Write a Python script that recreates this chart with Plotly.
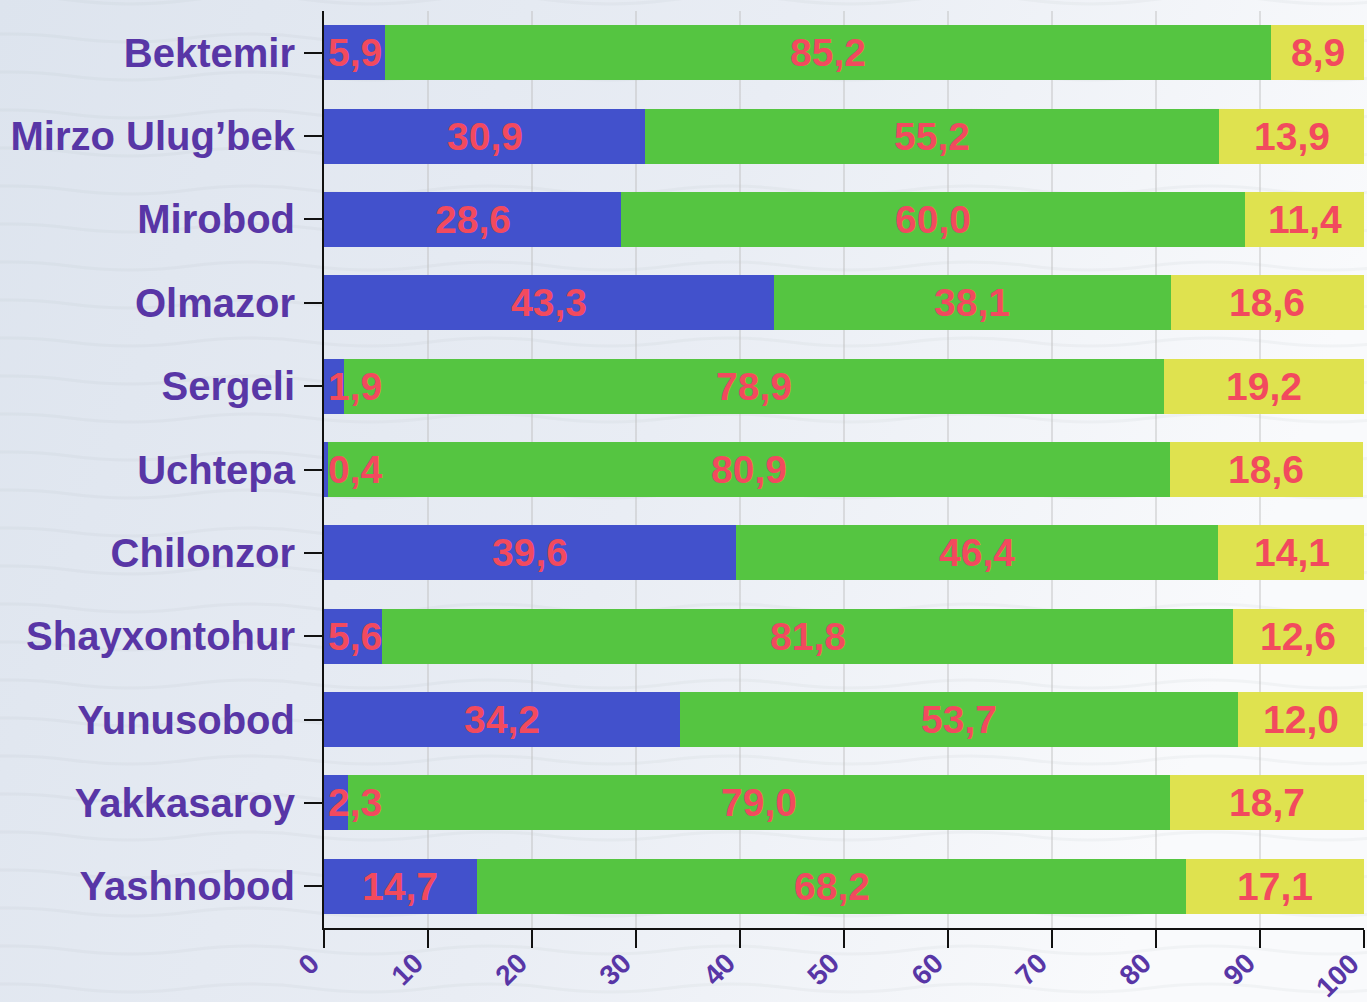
import base64
import plotly.graph_objects as go

districts = ["Bektemir", "Mirzo Ulug’bek", "Mirobod", "Olmazor", "Sergeli", "Uchtepa",
             "Chilonzor", "Shayxontohur", "Yunusobod", "Yakkasaroy", "Yashnobod"]
blue_vals = [5.9, 30.9, 28.6, 43.3, 1.9, 0.4, 39.6, 5.6, 34.2, 2.3, 14.7]
green_vals = [85.2, 55.2, 60.0, 38.1, 78.9, 80.9, 46.4, 81.8, 53.7, 79.0, 68.2]
yellow_vals = [8.9, 13.9, 11.4, 18.6, 19.2, 18.6, 14.1, 12.6, 12.0, 18.7, 17.1]
x_ticks = [0, 10, 20, 30, 40, 50, 60, 70, 80, 90, 100]

series = [("blue", blue_vals, "#4251cc"), ("green", green_vals, "#55c541"), ("yellow", yellow_vals, "#dfe24f")]

W, H = 1367, 1002
ML, MR, MT, MB = 324, 3, 11, 74
purple = "#5836a6"

fig = go.Figure()
for name, vals, col in series:
    fig.add_trace(go.Bar(y=districts, x=vals, orientation="h", name=name,
                         marker=dict(color=col, line=dict(width=0)), hoverinfo="x+y"))

label_font = dict(family="Liberation Sans, Arial, sans-serif", size=39, color="#f24a5e", weight="bold")
starts = [0.0] * len(districts)
for name, vals, col in series:
    for i, v in enumerate(vals):
        txt = f"{v:.1f}".replace(".", ",")
        s = starts[i]
        if v >= 8:
            fig.add_annotation(x=s + v / 2, y=districts[i], text=txt, showarrow=False,
                               xanchor="center", yanchor="middle", font=label_font)
        else:
            fig.add_annotation(x=s, y=districts[i], text=txt, showarrow=False,
                               xanchor="left", yanchor="middle", xshift=2, font=label_font)
        starts[i] = s + v

# rotated x tick labels (as annotations so they sit like the reference)
tick_font = dict(family="Liberation Sans, Arial, sans-serif", size=28, color=purple, weight="bold")
for t in x_ticks:
    fig.add_annotation(x=t, xref="x", y=0, yref="paper", text=str(t), showarrow=False,
                       textangle=-45, xanchor="right", yanchor="top", xshift=4, yshift=-17,
                       font=tick_font)

# background gradient with faint waves
waves = []
for k in range(-1, 30):
    y0 = k * 38
    d = f"M -50 {y0} " + " ".join(
        f"Q {x + 60} {y0 - 8} {x + 120} {y0} T {x + 240} {y0}" for x in range(-50, 1450, 240))
    waves.append(f'<path d="{d}" fill="none" stroke="#9aa0a8" stroke-opacity="0.08" stroke-width="3"/>')
svg = f'''<svg xmlns="http://www.w3.org/2000/svg" width="{W}" height="{H}" viewBox="0 0 {W} {H}" preserveAspectRatio="none">
<defs><linearGradient id="g" x1="0" y1="0" x2="1" y2="0.25">
<stop offset="0" stop-color="#dde4ee"/><stop offset="0.55" stop-color="#e9edf4"/><stop offset="1" stop-color="#f9fafc"/>
</linearGradient></defs>
<rect width="{W}" height="{H}" fill="url(#g)"/>
{''.join(waves)}
</svg>'''
src = "data:image/svg+xml;base64," + base64.b64encode(svg.encode()).decode()
pw, ph = W - ML - MR, H - MT - MB
fig.add_layout_image(source=src, xref="paper", yref="paper",
                     x=-ML / pw, y=1 + MT / ph, sizex=W / pw, sizey=H / ph,
                     xanchor="left", yanchor="top", sizing="stretch", layer="below")

fig.update_layout(
    width=W, height=H,
    margin=dict(l=ML, r=MR, t=MT, b=MB, pad=0, autoexpand=False),
    barmode="stack", bargap=0.34,
    showlegend=False,
    paper_bgcolor="#eaeef5", plot_bgcolor="rgba(0,0,0,0)",
    font=dict(family="Liberation Sans, Arial, sans-serif"),
    xaxis=dict(range=[0, 100], tickvals=x_ticks, showticklabels=False,
               ticks="outside", ticklen=18, tickwidth=2, tickcolor="#111",
               showline=True, linecolor="#111", linewidth=2, automargin=False,
               showgrid=True, gridcolor="rgba(190,190,190,0.45)", gridwidth=2,
               zeroline=False),
    yaxis=dict(categoryorder="array", categoryarray=districts, autorange="reversed",
               ticks="outside", ticklen=18, tickwidth=2, tickcolor="#111",
               showline=True, linecolor="#111", linewidth=2, showgrid=False,
               ticklabelstandoff=1, automargin=False,
               tickfont=dict(size=40, color=purple, weight="bold")),
)

fig.write_html("out.html", config={"displayModeBar": False},
               post_script="document.body.style.margin='0';document.body.style.overflow='hidden';")
